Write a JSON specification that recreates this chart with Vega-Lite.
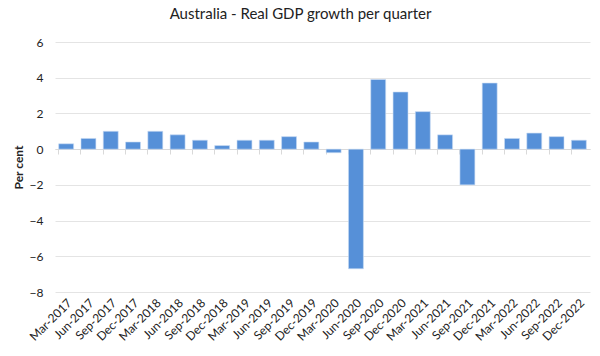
{
  "$schema": "https://vega.github.io/schema/vega-lite/v6.json",
  "autosize": {"type": "none"},
  "width": 535,
  "height": 250,
  "padding": {"left": 55, "top": 42, "right": 10, "bottom": 64},
  "background": "white",
  "config": {
    "font": "Lato",
    "view": {"stroke": null}
  },
  "title": {
    "text": "Australia - Real GDP growth per quarter",
    "font": "Lato",
    "fontSize": 15,
    "fontWeight": "normal",
    "color": "#222222",
    "anchor": "middle",
    "dx": -22,
    "offset": 14
  },
  "data": {
    "values": [
      {"quarter": "Mar-2017", "growth": 0.3},
      {"quarter": "Jun-2017", "growth": 0.6},
      {"quarter": "Sep-2017", "growth": 1.0},
      {"quarter": "Dec-2017", "growth": 0.4},
      {"quarter": "Mar-2018", "growth": 1.0},
      {"quarter": "Jun-2018", "growth": 0.8},
      {"quarter": "Sep-2018", "growth": 0.5},
      {"quarter": "Dec-2018", "growth": 0.2},
      {"quarter": "Mar-2019", "growth": 0.5},
      {"quarter": "Jun-2019", "growth": 0.5},
      {"quarter": "Sep-2019", "growth": 0.7},
      {"quarter": "Dec-2019", "growth": 0.4},
      {"quarter": "Mar-2020", "growth": -0.2},
      {"quarter": "Jun-2020", "growth": -6.7},
      {"quarter": "Sep-2020", "growth": 3.9},
      {"quarter": "Dec-2020", "growth": 3.2},
      {"quarter": "Mar-2021", "growth": 2.1},
      {"quarter": "Jun-2021", "growth": 0.8},
      {"quarter": "Sep-2021", "growth": -2.0},
      {"quarter": "Dec-2021", "growth": 3.7},
      {"quarter": "Mar-2022", "growth": 0.6},
      {"quarter": "Jun-2022", "growth": 0.9},
      {"quarter": "Sep-2022", "growth": 0.7},
      {"quarter": "Dec-2022", "growth": 0.5}
    ]
  },
  "resolve": {"axis": {"x": "independent"}},
  "layer": [
    {
      "mark": {"type": "bar", "color": "#5690d8", "stroke": "#c9dcf3", "strokeWidth": 0.6},
      "encoding": {
        "x": {
          "field": "quarter",
          "type": "nominal",
          "sort": null,
          "scale": {"paddingInner": 0.33, "paddingOuter": 0.165},
          "axis": {
            "orient": "top",
            "offset": -107,
            "title": null,
            "labels": false,
            "grid": false,
            "domain": true,
            "domainColor": "#d9d9d9",
            "domainWidth": 1,
            "ticks": true,
            "tickColor": "#d9d9d9",
            "tickSize": -5,
            "bandPosition": 0
          }
        },
        "y": {
          "field": "growth",
          "type": "quantitative",
          "scale": {"domain": [-8, 6], "nice": false, "zero": false},
          "axis": {
            "title": "Per cent",
            "titleFont": "Lato",
            "titleFontSize": 12,
            "titleFontWeight": "bold",
            "titleColor": "#222222",
            "titlePadding": 4,
            "values": [-8, -6, -4, -2, 0, 2, 4, 6],
            "labelOverlap": false,
            "labelFontSize": 12,
            "labelColor": "#222222",
            "labelPadding": 12,
            "domain": false,
            "ticks": false,
            "grid": true,
            "gridColor": "#e4e4e4",
            "gridWidth": 1
          }
        }
      }
    },
    {
      "mark": {"type": "bar", "opacity": 0},
      "encoding": {
        "x": {
          "field": "quarter",
          "type": "nominal",
          "sort": null,
          "axis": {
            "orient": "bottom",
            "title": null,
            "labelAngle": -45,
            "labelFontSize": 12,
            "labelColor": "#222222",
            "labelPadding": 5,
            "domain": false,
            "ticks": false,
            "grid": false
          }
        }
      }
    }
  ]
}
